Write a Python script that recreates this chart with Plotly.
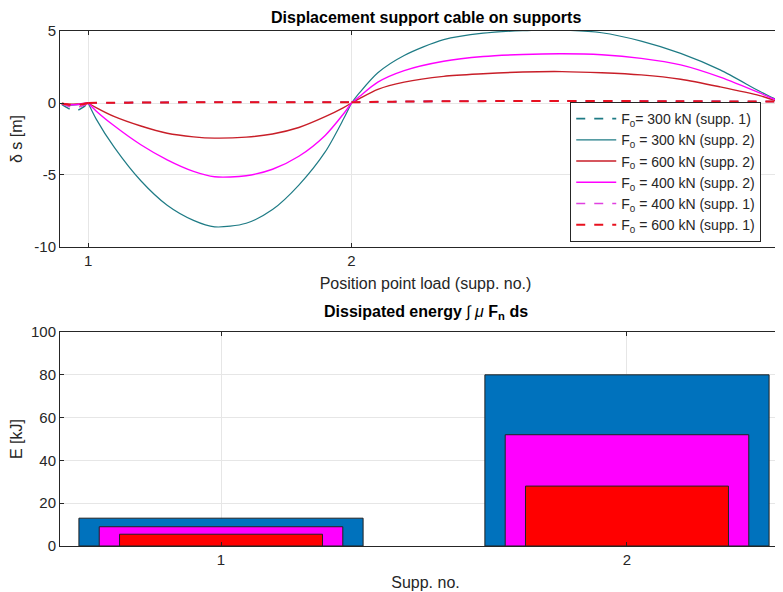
import plotly.graph_objects as go

# load position along the cable (in support-number units)
pos = [0.9, 0.93, 0.96, 0.98, 1.0, 1.03, 1.1, 1.2, 1.3, 1.4, 1.48, 1.6, 1.7, 1.8, 1.9, 1.97, 2.0,
       2.03, 2.1, 2.2, 2.35, 2.5, 2.65, 2.8, 2.95, 3.1, 3.25, 3.4, 3.55, 3.6, 3.64]
support_pos = [1.0, 2.0]

# displacement on support 2 (solid)
ds_300_s2 = [-0.05, -0.15, -0.12, -0.05, 0.0, -1.1, -3.1, -5.4, -7.1, -8.15, -8.6, -8.35, -7.4, -5.7, -3.4, -1.1, 0.0,
             0.7, 2.1, 3.3, 4.4, 4.85, 5.02, 5.06, 4.88, 4.3, 3.45, 2.3, 0.81, 0.36, 0.0]
ds_600_s2 = [-0.03, -0.08, -0.06, -0.03, 0.0, -0.32, -0.95, -1.6, -2.1, -2.35, -2.44, -2.37, -2.15, -1.7, -0.95, -0.32, 0.0,
             0.3, 0.95, 1.45, 1.85, 2.03, 2.15, 2.18, 2.1, 1.95, 1.65, 1.12, 0.51, 0.22, 0.0]
ds_400_s2 = [-0.05, -0.12, -0.1, -0.04, 0.0, -0.55, -1.6, -2.9, -3.95, -4.75, -5.12, -5.05, -4.6, -3.7, -2.25, -0.75, 0.0,
             0.45, 1.45, 2.25, 2.9, 3.23, 3.37, 3.42, 3.35, 3.1, 2.65, 1.8, 0.7, 0.3, 0.0]

# displacement on support 1 (dashed)
ds_300_s1 = [-0.1, -0.42, -0.5, -0.3, 0.0, 0.01, 0.02, 0.03, 0.04, 0.05, 0.05, 0.05, 0.05, 0.05, 0.05, 0.05, 0.05,
             0.06, 0.08, 0.1, 0.12, 0.13, 0.14, 0.14, 0.14, 0.13, 0.12, 0.11, 0.1, 0.1, 0.1]
ds_400_s1 = [-0.05, -0.25, -0.3, -0.18, 0.0, 0.01, 0.02, 0.03, 0.04, 0.05, 0.05, 0.05, 0.05, 0.05, 0.05, 0.05, 0.05,
             0.06, 0.08, 0.1, 0.12, 0.13, 0.14, 0.14, 0.14, 0.13, 0.12, 0.11, 0.1, 0.1, 0.1]
ds_600_s1 = [-0.03, -0.12, -0.15, -0.09, 0.0, 0.01, 0.02, 0.03, 0.04, 0.05, 0.05, 0.05, 0.05, 0.05, 0.05, 0.05, 0.05,
             0.06, 0.08, 0.1, 0.12, 0.13, 0.14, 0.14, 0.14, 0.13, 0.12, 0.11, 0.1, 0.1, 0.1]

# dissipated energy per support [kJ]
supports = [1, 2]
e_300 = [13, 80]
e_400 = [9, 52]
e_600 = [5.5, 28]

top_yticks = [5, 0, -5, -10]
top_yticklabels = ["5", "0", "-5", "-10"]
top_xticks = [1, 2]
bot_yticks = [0, 20, 40, 60, 80, 100]

TEAL = "#1e7b85"
RED = "#c81e28"
RED_D = "#e8101e"
MAG = "#ff00ff"
MAG_D = "#e040e0"


def split_at_supports(xs, ys):
    # break the line at each support so every span is smoothed on its own (kink at supports)
    out_x, out_y = [], []
    for x, y in zip(xs, ys):
        out_x.append(x)
        out_y.append(y)
        if x in support_pos:
            out_x += [None, x]
            out_y += [None, y]
    return out_x, out_y


fig = go.Figure()

lines = [
    ("F<sub>0</sub>= 300 kN (supp. 1)", ds_300_s1, TEAL, "dash", 1.6),
    ("F<sub>0</sub> = 300 kN (supp. 2)", ds_300_s2, TEAL, "solid", 1.2),
    ("F<sub>0</sub> = 600 kN (supp. 2)", ds_600_s2, RED, "solid", 1.4),
    ("F<sub>0</sub> = 400 kN (supp. 2)", ds_400_s2, MAG, "solid", 1.4),
    ("F<sub>0</sub> = 400 kN (supp. 1)", ds_400_s1, MAG_D, "dash", 1.6),
    ("F<sub>0</sub> = 600 kN (supp. 1)", ds_600_s1, RED_D, "dash", 2.0),
]
for name, ys, col, dash, w in lines:
    sx, sy = split_at_supports(pos, ys)
    fig.add_trace(go.Scatter(
        x=sx, y=sy, name=name, mode="lines", line_shape="spline", connectgaps=False,
        line=dict(color=col, width=w, dash=dash, smoothing=0.8),
        xaxis="x", yaxis="y",
    ))

for vals, col, w in [(e_300, "#0072BD", 0.7), (e_400, "#FF00FF", 0.6), (e_600, "#FF0000", 0.5)]:
    fig.add_trace(go.Bar(
        x=supports, y=vals, width=w, marker=dict(color=col, line=dict(color="#222", width=1)),
        showlegend=False, xaxis="x2", yaxis="y2",
    ))

ax_common = dict(
    showline=True, linecolor="#262626", linewidth=1, ticks="inside", ticklen=4,
    tickcolor="#262626", showgrid=True, gridcolor="#e6e6e6", zeroline=False,
    tickfont=dict(size=15, color="#262626"),
)

# the page puts the figure 8px in from the window corner, so margins are trimmed by 8
fig.update_layout(
    width=783, height=592,
    template="plotly_white",
    font=dict(family="Liberation Sans, Arial, sans-serif", color="#262626"),
    margin=dict(l=52, r=0, t=23, b=54, autoexpand=False),
    barmode="overlay",
    plot_bgcolor="white", paper_bgcolor="white",
    xaxis=dict(ax_common, domain=[0, 1], range=[0.893, 3.669], tickvals=top_xticks,
               mirror="ticks", anchor="y",
               title=dict(text="Position point load (supp. no.)", font=dict(size=16), standoff=9)),
    yaxis=dict(ax_common, domain=[0.5806, 1], range=[-10, 5], tickvals=top_yticks,
               ticktext=top_yticklabels, anchor="x",
               title=dict(text="δ s [m]", font=dict(size=16), standoff=10)),
    xaxis2=dict(ax_common, domain=[0, 1], range=[0.6034, 2.404], tickvals=supports,
                mirror="ticks", anchor="y2",
                title=dict(text="Supp. no.", font=dict(size=16), standoff=9)),
    yaxis2=dict(ax_common, domain=[0, 0.4155], range=[0, 100], tickvals=bot_yticks, anchor="x2",
                title=dict(text="E [kJ]", font=dict(size=16), standoff=10)),
    legend=dict(x=0.698, y=0.862, xanchor="left", yanchor="top", bgcolor="white",
                bordercolor="#262626", borderwidth=1, font=dict(size=14, color="#262626"),
                tracegroupgap=0, itemwidth=40),
    annotations=[
        dict(text="<b>Displacement support cable on supports</b>", x=0.5, y=1, xref="paper",
             yref="paper", yanchor="bottom", yshift=3, showarrow=False,
             font=dict(size=16, color="black")),
        dict(text="<b>Dissipated energy</b> ∫ <i>μ</i> <b>F<sub>n</sub> ds</b>", x=0.5, y=0.4155,
             xref="paper", yref="paper", yanchor="bottom", yshift=8, showarrow=False,
             font=dict(size=16, color="black")),
    ],
)

fig.write_html("out.html")
